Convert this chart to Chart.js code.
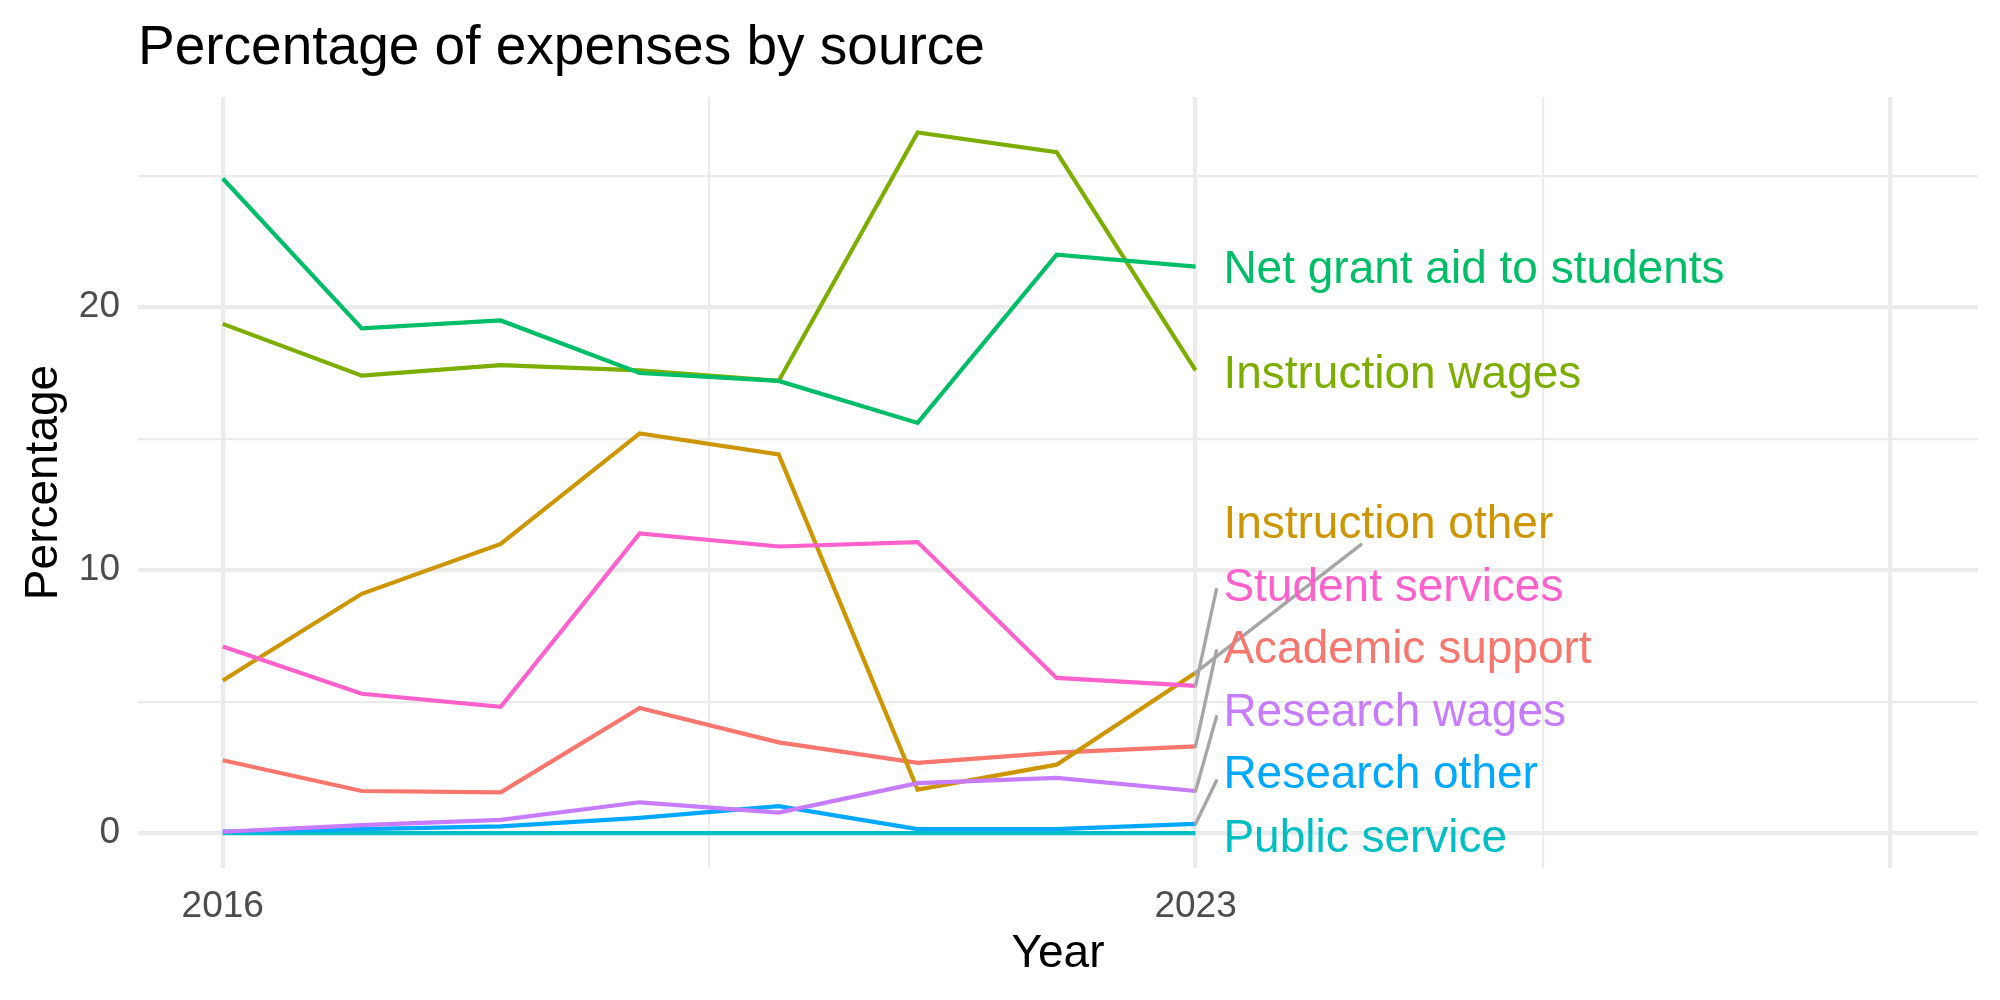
<!DOCTYPE html>
<html>
<head>
<meta charset="utf-8">
<title>Percentage of expenses by source</title>
<script src="https://cdn.jsdelivr.net/npm/chart.js@4.4.1/dist/chart.umd.min.js"></script>
<style>
  body { margin: 0; background: #fff; }
  #chart { display: block; }
</style>
</head>
<body>
<canvas id="chart" width="2000" height="1000"></canvas>
<script>
// data
const years = [2016, 2017, 2018, 2019, 2020, 2021, 2022, 2023];

const seriesNames = [
  'Academic support', 'Instruction other', 'Instruction wages', 'Net grant aid to students',
  'Public service', 'Research other', 'Research wages', 'Student services'
];
const academicSupport  = [2.77, 1.60, 1.55, 4.76, 3.45, 2.67, 3.06, 3.30];
const instructionOther = [5.80, 9.10, 11.00, 15.20, 14.40, 1.65, 2.60, 6.10];
const instructionWages = [19.37, 17.40, 17.80, 17.60, 17.20, 26.65, 25.90, 17.60];
const netGrantAid      = [24.90, 19.20, 19.50, 17.50, 17.20, 15.60, 22.00, 21.55];
const publicService    = [0.00, 0.00, 0.00, 0.00, 0.00, 0.00, 0.00, 0.00];
const researchOther    = [0.05, 0.15, 0.25, 0.58, 1.02, 0.15, 0.15, 0.35];
const researchWages    = [0.05, 0.30, 0.50, 1.17, 0.78, 1.90, 2.10, 1.60];
const studentServices  = [7.10, 5.30, 4.80, 11.40, 10.90, 11.07, 5.90, 5.60];

const seriesValues = [academicSupport, instructionOther, instructionWages, netGrantAid,
  publicService, researchOther, researchWages, studentServices];
const seriesColors = ['#F8766D', '#CD9600', '#7CAE00', '#00BE67', '#00BFC4', '#00A9FF', '#C77CFF', '#FF61CC'];

// repelled end labels (value where each label sits) and their leader segment ends
const labelYear = 2023.2;
const labelValues = [7.04, 11.8, 17.52, 21.5, -0.15, 2.28, 4.66, 9.42];
const segmentEnds = [[2023.15, 6.94], [2024.19, 10.97], null, null, null, [2023.15, 1.99], [2023.15, 4.42], [2023.15, 9.27]];

// axis ticks (majors and minors alternate)
const xTicks = [2016, 2019.5, 2023, 2025.5, 2028];
const xTickLabels = ['2016', '', '2023', '', ''];
const yTicks = [0, 5, 10, 15, 20, 25];
const yTickLabels = ['0', '', '10', '', '20', ''];

const FONT = '"Liberation Sans", Arial, Helvetica, sans-serif';

const endLabels = {
  id: 'endLabels',
  afterDatasetsDraw(chart) {
    const {ctx, scales: {x, y}} = chart;
    const last = years.length - 1;
    ctx.save();
    ctx.strokeStyle = '#A6A6A6';
    ctx.lineWidth = 3.4;
    ctx.lineCap = 'round';
    segmentEnds.forEach((end, i) => {
      if (!end) return;
      ctx.beginPath();
      ctx.moveTo(x.getPixelForValue(years[last]), y.getPixelForValue(seriesValues[i][last]));
      ctx.lineTo(x.getPixelForValue(end[0]), y.getPixelForValue(end[1]));
      ctx.stroke();
    });
    ctx.font = '46px ' + FONT;
    ctx.textAlign = 'left';
    ctx.textBaseline = 'middle';
    seriesNames.forEach((name, i) => {
      ctx.fillStyle = seriesColors[i];
      // +2.5px: glyph centre vs canvas 'middle' baseline
      ctx.fillText(name, x.getPixelForValue(labelYear), y.getPixelForValue(labelValues[i]) + 2.5);
    });
    ctx.restore();
  }
};

new Chart(document.getElementById('chart'), {
  type: 'line',
  data: {
    datasets: seriesNames.map((name, i) => ({
      label: name,
      data: years.map((yr, j) => ({x: yr, y: seriesValues[i][j]})),
      borderColor: seriesColors[i],
      backgroundColor: seriesColors[i],
      borderWidth: 4.2,
      pointRadius: 0,
      tension: 0,
      fill: false,
      order: seriesNames.length - i
    }))
  },
  options: {
    responsive: false,
    animation: false,
    layout: { padding: { left: 0, right: 22, top: 0, bottom: 0 } },
    plugins: {
      legend: { display: false },
      tooltip: { enabled: false },
      title: {
        display: true,
        text: 'Percentage of expenses by source',
        align: 'start',
        fullSize: false,
        color: '#000',
        font: { family: FONT, size: 55, weight: 'normal', lineHeight: 1.2 },
        padding: { top: 16, bottom: 15 }
      }
    },
    scales: {
      x: {
        type: 'linear',
        min: 2015.39,
        max: 2028.63,
        border: { display: false },
        grid: {
          color: '#EBEBEB',
          drawTicks: false,
          lineWidth: ctx => ctx.index % 2 === 0 ? 4.3 : 2.2
        },
        afterBuildTicks: scale => { scale.ticks = xTicks.map(v => ({value: v})); },
        afterFit: scale => { scale.height = 132; },
        ticks: {
          color: '#4D4D4D',
          padding: 17,
          autoSkip: false,
          maxRotation: 0,
          font: { family: FONT, size: 37, lineHeight: 1.2 },
          callback: (v, i) => xTickLabels[i]
        },
        title: {
          display: true,
          text: 'Year',
          color: '#000',
          font: { family: FONT, size: 46, lineHeight: 1.2 },
          padding: { top: 0, bottom: 18 }
        }
      },
      y: {
        type: 'linear',
        min: -1.33,
        max: 28.0,
        border: { display: false },
        grid: {
          color: '#EBEBEB',
          drawTicks: false,
          lineWidth: ctx => ctx.index % 2 === 0 ? 4.3 : 2.2
        },
        afterBuildTicks: scale => { scale.ticks = yTicks.map(v => ({value: v})); },
        afterFit: scale => { scale.width = 138; },
        ticks: {
          color: '#4D4D4D',
          padding: 18,
          autoSkip: false,
          font: { family: FONT, size: 37, lineHeight: 1.2 },
          callback: (v, i) => yTickLabels[i]
        },
        title: {
          display: true,
          text: 'Percentage',
          color: '#000',
          font: { family: FONT, size: 46, lineHeight: 1.2 },
          padding: { top: 17, bottom: 0 }
        }
      }
    }
  },
  plugins: [endLabels]
});
</script>
</body>
</html>
